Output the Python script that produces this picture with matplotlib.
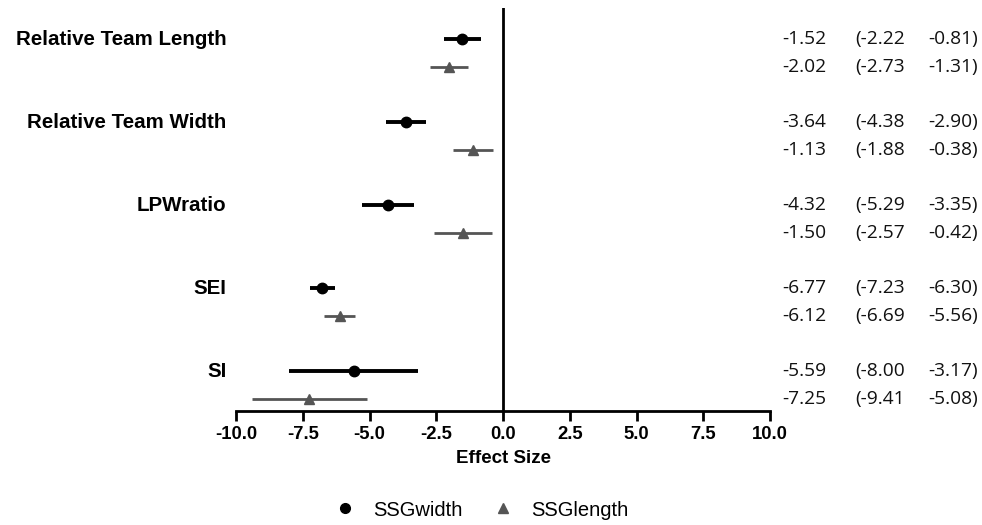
import matplotlib
matplotlib.use("Agg")
import matplotlib.pyplot as plt
import matplotlib.transforms as mtransforms
from matplotlib.lines import Line2D

categories = ["Relative Team Length", "Relative Team Width", "LPWratio", "SEI", "SI"]
width_es = [-1.52, -3.64, -4.32, -6.77, -5.59]
width_lo = [-2.22, -4.38, -5.29, -7.23, -8.00]
width_hi = [-0.81, -2.90, -3.35, -6.30, -3.17]
length_es = [-2.02, -1.13, -1.50, -6.12, -7.25]
length_lo = [-2.73, -1.88, -2.57, -6.69, -9.41]
length_hi = [-1.31, -0.38, -0.42, -5.56, -5.08]
xticks = [-10.0, -7.5, -5.0, -2.5, 0.0, 2.5, 5.0, 7.5, 10.0]

W, H = 982, 525
fig = plt.figure(figsize=(W / 100, H / 100), dpi=100)
ax = fig.add_axes([236 / W, 1 - 411 / H, (770 - 236) / W, (411 - 8) / H])

yw = [3 * i for i in range(len(categories))]
yl = [3 * i + 1 for i in range(len(categories))]

wcol = "#000000"
lcol = "#555555"
for i in range(len(categories)):
    ax.plot([width_lo[i], width_hi[i]], [yw[i], yw[i]], color=wcol, lw=2.8, solid_capstyle="butt", zorder=2)
    ax.plot([length_lo[i], length_hi[i]], [yl[i], yl[i]], color=lcol, lw=2.0, solid_capstyle="butt", zorder=2)
ax.plot(width_es, yw, "o", color=wcol, ms=7.5, zorder=3)
ax.plot(length_es, yl, "^", color=lcol, ms=7.5, zorder=3)

ax.axvline(0, color="black", lw=2, zorder=1)
ax.set_xlim(-10, 10)
ax.set_ylim(13.43, -1.12)
ax.set_xticks(xticks)
ax.set_xticklabels([f"{t:.1f}" for t in xticks], fontweight="bold", fontsize=13.3, family="Liberation Sans")
ax.tick_params(axis="x", direction="out", length=7, width=2, pad=4)
ax.set_yticks([])
for s in ["left", "right", "top"]:
    ax.spines[s].set_visible(False)
ax.spines["bottom"].set_linewidth(2)
ax.set_xlabel("Effect Size", fontweight="bold", fontsize=13.5, family="Liberation Sans", labelpad=5)

# category labels
for i, c in enumerate(categories):
    ax.text(-10.35, yw[i], c, ha="right", va="center", fontweight="bold", fontsize=14.8,
            family="Liberation Sans")

# right side numbers
tr = mtransforms.blended_transform_factory(fig.transFigure, ax.transData)
for i in range(len(categories)):
    for y, es, lo, hi in [(yw[i], width_es[i], width_lo[i], width_hi[i]),
                          (yl[i], length_es[i], length_lo[i], length_hi[i])]:
        kw = dict(transform=tr, ha="left", va="center", fontsize=13.8, family="Open Sans", color="#111111")
        ax.text(782 / W, y, f"{es:.2f}", **kw)
        ax.text(855 / W, y, f"({lo:.2f}", **kw)
        ax.text(928 / W, y, f"{hi:.2f})", **kw)

handles = [Line2D([], [], ls="none", marker="o", color=wcol, ms=7),
           Line2D([], [], ls="none", marker="^", color=lcol, ms=7)]
fig.legend(handles, ["SSGwidth", "SSGlength"], loc="center", bbox_to_anchor=(477 / W, 1 - 510 / H),
           ncol=2, frameon=False, prop={"family": "Liberation Sans", "size": 14.5},
           handletextpad=0.4, columnspacing=1.0)

fig.savefig("out.png", dpi=100)
